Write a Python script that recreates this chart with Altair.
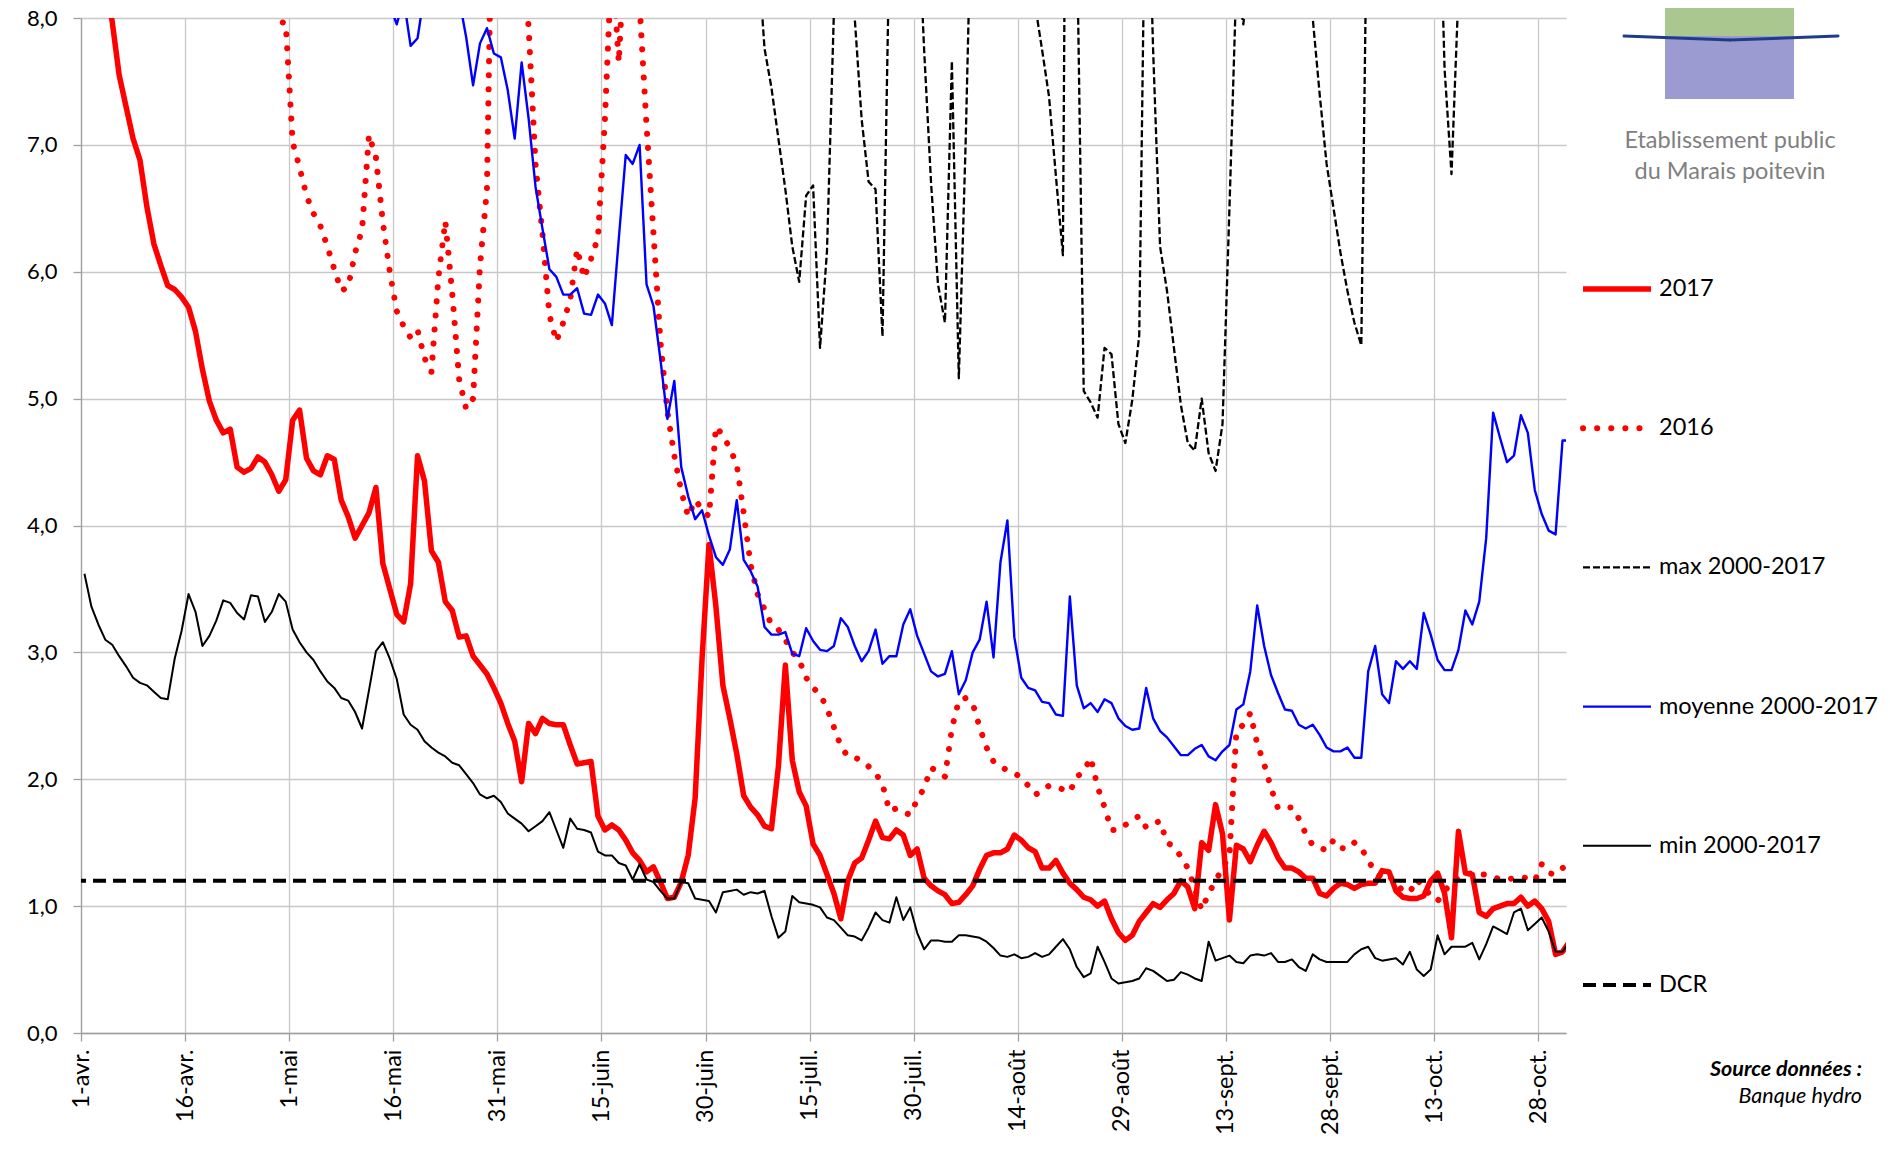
import json
import altair as alt
import pandas as pd

# ---------------- data (one value per day, 1 April -> 1 November) ----------------
tick_labels = ['1-avr.', '16-avr.', '1-mai', '16-mai', '31-mai', '15-juin', '30-juin',
               '15-juil.', '30-juil.', '14-août', '29-août', '13-sept.', '28-sept.',
               '13-oct.', '28-oct.']

s2017 = [9.2, 8.95, 8.65, 8.3, 7.97, 7.55, 7.3, 7.05, 6.88, 6.51,
         6.22, 6.05, 5.89, 5.86, 5.8, 5.72, 5.53, 5.23, 4.98, 4.83,
         4.73, 4.76, 4.46, 4.42, 4.45, 4.54, 4.5, 4.4, 4.27, 4.36,
         4.83, 4.91, 4.53, 4.43, 4.4, 4.55, 4.52, 4.2, 4.07, 3.9,
         4.0, 4.1, 4.3, 3.7, 3.5, 3.3, 3.24, 3.54, 4.55, 4.35,
         3.8, 3.71, 3.4, 3.33, 3.12, 3.13, 2.97, 2.9, 2.83, 2.72,
         2.6, 2.44, 2.3, 1.98, 2.44, 2.36, 2.48, 2.44, 2.43, 2.43,
         2.27, 2.12, 2.13, 2.14, 1.71, 1.6, 1.64, 1.6, 1.52, 1.42,
         1.36, 1.27, 1.31, 1.19, 1.06, 1.07, 1.19, 1.4, 1.85, 2.95,
         3.85, 3.36, 2.74, 2.48, 2.2, 1.87, 1.78, 1.72, 1.63, 1.61,
         2.1, 2.9, 2.15, 1.9, 1.79, 1.49, 1.4, 1.25, 1.1, 0.9,
         1.2, 1.34, 1.38, 1.52, 1.67, 1.54, 1.53, 1.6, 1.56, 1.4,
         1.45, 1.22, 1.16, 1.12, 1.09, 1.02, 1.03, 1.09, 1.16, 1.29,
         1.4, 1.42, 1.42, 1.45, 1.56, 1.52, 1.46, 1.43, 1.3, 1.3,
         1.36, 1.26, 1.18, 1.13, 1.07, 1.05, 1.0, 1.04, 0.9, 0.79,
         0.73, 0.77, 0.88, 0.95, 1.02, 0.99, 1.05, 1.1, 1.2, 1.15,
         0.98, 1.5, 1.44, 1.8, 1.57, 0.89, 1.48, 1.45, 1.35, 1.48,
         1.59, 1.5, 1.38, 1.3, 1.3, 1.27, 1.22, 1.22, 1.1, 1.08,
         1.14, 1.18, 1.17, 1.14, 1.17, 1.18, 1.18, 1.28, 1.27, 1.12,
         1.07, 1.06, 1.06, 1.08, 1.2, 1.26, 1.1, 0.75, 1.59, 1.26,
         1.25, 0.95, 0.92, 0.98, 1.0, 1.02, 1.02, 1.07, 1.0, 1.04,
         0.98, 0.88, 0.62, 0.64, 0.72]

s2016 = [11.5, 11.8, 12.0, 11.6, 11.0, 10.5, 10.2, 10.0, 9.8, 9.6,
         9.5, 9.4, 9.5, 9.7, 9.9, 10.1, 10.3, 10.4, 10.2, 9.9,
         9.6, 9.4, 9.2, 9.0, 8.85, 8.7, 8.5, 8.07, 7.97, 7.96,
         7.02, 6.82, 6.6, 6.46, 6.36, 6.2, 6.02, 5.85, 5.88, 6.15,
         6.33, 7.08, 6.9, 6.39, 6.0, 5.69, 5.57, 5.48, 5.54, 5.32,
         5.21, 5.95, 6.4, 5.83, 5.15, 4.92, 5.0, 6.05, 6.65, 10.0,
         10.5, 10.8, 10.3, 8.6, 7.93, 6.85, 6.3, 5.66, 5.45, 5.6,
         5.78, 6.18, 5.95, 6.1, 6.27, 7.2, 8.5, 7.65, 8.7, 8.9,
         8.1, 7.15, 6.3, 5.45, 4.9, 4.55, 4.27, 4.07, 4.2, 4.13,
         4.07, 4.78, 4.71, 4.61, 4.48, 4.1, 3.69, 3.46, 3.34, 3.22,
         3.18, 3.1, 3.0, 2.94, 2.8, 2.72, 2.67, 2.56, 2.41, 2.26,
         2.18, 2.17, 2.15, 2.1, 2.05, 1.96, 1.75, 1.77, 1.74, 1.72,
         1.84, 1.93, 2.09, 2.06, 2.02, 2.4, 2.62, 2.64, 2.6, 2.41,
         2.25, 2.14, 2.1, 2.07, 2.05, 2.01, 1.95, 1.88, 1.9, 1.95,
         1.94, 1.92, 1.9, 2.02, 2.06, 2.17, 1.94, 1.78, 1.6, 1.6,
         1.64, 1.68, 1.71, 1.62, 1.65, 1.67, 1.5, 1.47, 1.39, 1.3,
         1.14, 0.97, 1.1, 1.2, 1.3, 1.4, 2.38, 2.43, 2.52, 2.28,
         2.12, 1.93, 1.77, 1.77, 1.78, 1.69, 1.57, 1.48, 1.46, 1.44,
         1.52, 1.46, 1.45, 1.5, 1.46, 1.36, 1.27, 1.22, 1.24, 1.18,
         1.12, 1.11, 1.21, 1.15, 1.08, 1.04, 1.12, 1.18, 1.22, 1.25,
         1.26, 1.25, 1.25, 1.23, 1.21, 1.21, 1.22, 1.23, 1.22, 1.2,
         1.33, 1.26, 1.25, 1.3, 1.33]

smax = [24, 23, 22, 21, 20.5, 20, 19.5, 19, 18.6, 18.2,
        18, 17.5, 17, 16.8, 16.5, 17, 17.5, 17, 16.5, 16,
        15.6, 15.2, 15, 14.8, 14.6, 14.4, 14.2, 14, 13.8, 13.6,
        13.5, 13.3, 13.1, 13, 12.8, 12.6, 12.4, 12.3, 12.2, 12,
        11.9, 11.8, 11.7, 11.6, 11.5, 11.4, 11.3, 11.2, 11.1, 11,
        10.9, 10.8, 10.7, 10.6, 10.5, 10.4, 10.3, 10.2, 10.1, 10,
        9.9, 9.8, 9.8, 9.7, 9.7, 9.6, 9.6, 9.5, 9.5, 9.4,
        9.4, 9.3, 9.3, 9.2, 9.2, 9.1, 9.1, 9.0, 9.0, 8.9,
        8.9, 8.9, 8.8, 8.8, 8.8, 8.7, 8.7, 8.7, 8.7, 8.6,
        8.6, 8.6, 8.6, 8.6, 8.7, 8.9, 9.0, 8.56, 7.76, 7.45,
        7.05, 6.65, 6.2, 5.92, 6.6, 6.68, 5.4, 6.16, 8.05, 8.9,
        8.8, 8.0, 7.2, 6.71, 6.65, 5.49, 8.6, 9.0, 9.3, 9.1,
        9.0, 7.75, 6.7, 5.9, 5.6, 7.66, 5.16, 7.05, 9.4, 9.6,
        9.7, 9.6, 9.5, 9.3, 9.1, 8.8, 8.5, 8.1, 7.75, 7.38,
        6.75, 6.13, 15.0, 8.73, 5.06, 4.97, 4.85, 5.4, 5.35, 4.8,
        4.65, 4.99, 5.5, 9.7, 7.75, 6.2, 5.85, 5.4, 4.95, 4.65,
        4.59, 5.0, 4.57, 4.43, 4.8, 6.5, 8.3, 7.95, 8.5, 8.8,
        9.2, 9.4, 9.5, 9.4, 9.2, 9.0, 8.7, 8.0, 7.4, 6.85,
        6.5, 6.15, 5.85, 5.6, 5.42, 9.7, 9.4, 9.7, 9.8, 9.9,
        9.8, 9.6, 9.3, 9.0, 8.8, 9.6, 7.6, 6.77, 8.2, 9.0,
        9.3, 9.7, 10.0, 10.3, 10.5, 10.6, 10.8, 11.0, 11.2, 11.3,
        11.5, 11.6, 11.8, 12.0, 12.2]

smoy = [14.0, 13.5, 13.0, 12.6, 12.2, 11.9, 11.6, 11.4, 11.2, 11.0,
        10.8, 10.6, 10.5, 10.6, 10.8, 10.6, 10.3, 10.1, 10.0, 9.9,
        9.8, 9.7, 9.6, 9.5, 9.5, 9.6, 9.4, 9.3, 9.2, 9.3,
        9.4, 9.2, 9.0, 8.9, 8.8, 8.7, 8.6, 8.6, 8.5, 8.6,
        8.7, 8.6, 8.4, 8.25, 8.1, 7.95, 8.15, 7.78, 7.84, 8.2,
        8.5, 8.7, 8.6, 8.4, 8.15, 7.85, 7.47, 7.8, 7.92, 7.72,
        7.69, 7.43, 7.05, 7.65, 7.21, 6.67, 6.34, 6.02, 5.96, 5.82,
        5.82, 5.87, 5.67, 5.66, 5.82, 5.75, 5.58, 6.26, 6.92, 6.85,
        7.0, 5.9, 5.73, 5.31, 4.84, 5.14, 4.46, 4.23, 4.05, 4.12,
        3.92, 3.75, 3.69, 3.81, 4.2, 3.73, 3.64, 3.52, 3.2, 3.14,
        3.14, 3.16, 2.99, 2.97, 3.19, 3.09, 3.02, 3.01, 3.05, 3.27,
        3.2, 3.05, 2.93, 3.01, 3.18, 2.91, 2.97, 2.97, 3.22, 3.34,
        3.13, 2.99, 2.85, 2.81, 2.83, 3.01, 2.67, 2.78, 3.0, 3.1,
        3.4, 2.96, 3.71, 4.04, 3.12, 2.8, 2.72, 2.7, 2.61, 2.6,
        2.51, 2.5, 3.44, 2.74, 2.56, 2.6, 2.53, 2.63, 2.6, 2.48,
        2.42, 2.39, 2.4, 2.72, 2.48, 2.38, 2.33, 2.26, 2.19, 2.19,
        2.24, 2.27, 2.18, 2.15, 2.22, 2.27, 2.55, 2.59, 2.85, 3.37,
        3.05, 2.82, 2.68, 2.55, 2.54, 2.43, 2.4, 2.43, 2.35, 2.25,
        2.22, 2.22, 2.25, 2.17, 2.17, 2.85, 3.05, 2.67, 2.6, 2.93,
        2.87, 2.93, 2.87, 3.31, 3.14, 2.94, 2.86, 2.86, 3.02, 3.33,
        3.22, 3.4, 3.9, 4.89, 4.69, 4.5, 4.55, 4.87, 4.73, 4.28,
        4.09, 3.96, 3.93, 4.67, 4.67]

smin = [3.62, 3.36, 3.22, 3.1, 3.06, 2.97, 2.89, 2.8, 2.76, 2.74,
        2.69, 2.64, 2.63, 2.95, 3.17, 3.46, 3.32, 3.05, 3.13, 3.25,
        3.41, 3.39, 3.31, 3.26, 3.45, 3.44, 3.24, 3.32, 3.46, 3.4,
        3.18, 3.08, 3.0, 2.94, 2.85, 2.77, 2.72, 2.64, 2.62, 2.53,
        2.4, 2.7, 3.01, 3.08, 2.95, 2.79, 2.51, 2.43, 2.39, 2.3,
        2.25, 2.21, 2.18, 2.13, 2.11, 2.04, 1.97, 1.88, 1.85, 1.87,
        1.82, 1.73, 1.69, 1.65, 1.59, 1.63, 1.67, 1.74, 1.6, 1.46,
        1.69, 1.61, 1.6, 1.58, 1.43, 1.4, 1.4, 1.34, 1.32, 1.21,
        1.33, 1.21, 1.19, 1.12, 1.06, 1.06, 1.19, 1.18, 1.06, 1.05,
        1.04, 0.95, 1.11, 1.12, 1.13, 1.09, 1.11, 1.1, 1.12, 0.92,
        0.75, 0.8, 1.08, 1.03, 1.02, 1.01, 0.99, 0.91, 0.89, 0.83,
        0.77, 0.76, 0.73, 0.83, 0.95, 0.89, 0.87, 1.07, 0.89, 0.99,
        0.79, 0.66, 0.73, 0.73, 0.72, 0.72, 0.77, 0.77, 0.76, 0.75,
        0.72, 0.67, 0.61, 0.6, 0.62, 0.59, 0.6, 0.63, 0.6, 0.62,
        0.68, 0.74, 0.66, 0.52, 0.44, 0.47, 0.68, 0.56, 0.43, 0.39,
        0.4, 0.41, 0.43, 0.51, 0.49, 0.45, 0.41, 0.42, 0.48, 0.46,
        0.43, 0.41, 0.72, 0.57, 0.59, 0.61, 0.56, 0.55, 0.61, 0.62,
        0.61, 0.63, 0.56, 0.56, 0.58, 0.52, 0.49, 0.62, 0.58, 0.56,
        0.56, 0.56, 0.56, 0.62, 0.66, 0.68, 0.59, 0.57, 0.58, 0.59,
        0.54, 0.64, 0.5, 0.45, 0.5, 0.77, 0.62, 0.68, 0.68, 0.68,
        0.71, 0.58, 0.7, 0.84, 0.81, 0.78, 0.95, 0.98, 0.81, 0.86,
        0.91, 0.8, 0.64, 0.64, 0.72]

dcr_value = 1.2

legend_names = ['2017', '2016', 'max 2000-2017', 'moyenne 2000-2017', 'min 2000-2017', 'DCR']

# ---------------- build ----------------
FONT = 'Lato'
PLOT_W, PLOT_H = 1485, 1015
N_DAYS = 214


def frame(vals):
    n = min(len(vals), len(s2017))
    return pd.DataFrame({'pos': [i + 0.5 for i in range(n)], 'value': vals[:n]})


label_expr = json.dumps(tick_labels) + '[round(datum.value / 15)]'

x_axis = alt.Axis(values=list(range(0, 211, 15)), labelExpr=label_expr, labelAngle=270,
                  labelAlign='right', labelBaseline='middle', labelFont=FONT, labelFontSize=23.5,
                  labelColor='#000000', labelPadding=8, labelFlush=False, labelOverlap=False,
                  tickSize=8, tickColor='#A0A0A0', tickWidth=1.3, domainColor='#A0A0A0',
                  domainWidth=1.3, grid=True, gridColor='#C8C8C8', gridWidth=1.3, title=None)
y_axis = alt.Axis(values=list(range(0, 9)),
                  labelExpr="replace(format(datum.value, '.1f'), '.', ',')",
                  labelFont=FONT, labelFontSize=22, labelColor='#000000', labelPadding=16,
                  labelFlush=False, labelOverlap=False, tickSize=8, tickColor='#A0A0A0',
                  tickWidth=1.3, domainColor='#A0A0A0', domainWidth=1.3, grid=True,
                  gridColor='#C8C8C8', gridWidth=1.3, title=None)

x_enc = alt.X('pos:Q', scale=alt.Scale(domain=[0, N_DAYS], nice=False, zero=False), axis=x_axis)
y_enc = alt.Y('value:Q', scale=alt.Scale(domain=[0, 8], nice=False, zero=True), axis=y_axis)

styles = {
    '2017': dict(color='#FF0000', strokeWidth=5.5),
    '2016': dict(color='#FF0000', strokeWidth=6, strokeDash=[0.1, 14], strokeCap='round'),
    'max': dict(color='#000000', strokeWidth=2.3, strokeDash=[7, 3]),
    'moy': dict(color='#0000FF', strokeWidth=2.4),
    'min': dict(color='#000000', strokeWidth=2.0),
    'dcr': dict(color='#000000', strokeWidth=4.2, strokeDash=[13, 7]),
}


def line(vals, st):
    return alt.Chart(frame(vals)).mark_line(clip=True, strokeJoin='round', **st).encode(x=x_enc, y=y_enc)


layers = [
    line(s2017, styles['2017']),
    line(s2016, styles['2016']),
    line(smax, styles['max']),
    line(smoy, styles['moy']),
    line(smin, styles['min']),
    alt.Chart(pd.DataFrame({'value': [dcr_value]})).mark_rule(clip=True, **styles['dcr']).encode(y=y_enc),
]

one = pd.DataFrame({'k': [0]})

# legend (drawn to the right of the plot)
leg_x0, leg_x1, leg_tx = 1502, 1570, 1578
leg_y0, leg_dy = 271, 139.2
for i, (name, key) in enumerate(zip(legend_names, ['2017', '2016', 'max', 'moy', 'min', 'dcr'])):
    yy = leg_y0 + i * leg_dy
    layers.append(alt.Chart(one).mark_rule(**styles[key]).encode(
        x=alt.value(leg_x0), x2=alt.value(leg_x1), y=alt.value(yy)))
    layers.append(alt.Chart(one).mark_text(text=name, align='left', baseline='middle', font=FONT,
                                           fontSize=23.5, color='#000000').encode(
        x=alt.value(leg_tx), y=alt.value(yy)))

# logo
layers.append(alt.Chart(one).mark_rect(color='#A9C78E').encode(
    x=alt.value(1584), x2=alt.value(1713), y=alt.value(-18), y2=alt.value(18)))
layers.append(alt.Chart(one).mark_rect(color='#9B9BD2').encode(
    x=alt.value(1584), x2=alt.value(1713), y=alt.value(18), y2=alt.value(81)))
layers.append(alt.Chart(one).mark_rule(color='#1F3C88', strokeWidth=3, strokeCap='round').encode(
    x=alt.value(1543), x2=alt.value(1649), y=alt.value(18), y2=alt.value(22)))
layers.append(alt.Chart(one).mark_rule(color='#1F3C88', strokeWidth=3, strokeCap='round').encode(
    x=alt.value(1649), x2=alt.value(1757), y=alt.value(22), y2=alt.value(18)))
for txt, yy in [('Etablissement public', 123), ('du Marais poitevin', 154)]:
    layers.append(alt.Chart(one).mark_text(text=txt, align='center', baseline='middle', font=FONT,
                                           fontSize=23.5, color='#808080').encode(
        x=alt.value(1649), y=alt.value(yy)))

# source
layers.append(alt.Chart(one).mark_text(text='Source données :', align='right', baseline='middle',
                                       font=FONT, fontSize=21.5, fontWeight='bold', fontStyle='italic',
                                       color='#000000').encode(x=alt.value(1781), y=alt.value(1052)))
layers.append(alt.Chart(one).mark_text(text='Banque hydro', align='right', baseline='middle',
                                       font=FONT, fontSize=21.5, fontStyle='italic',
                                       color='#000000').encode(x=alt.value(1781), y=alt.value(1079)))

chart = alt.layer(*layers).properties(
    width=PLOT_W, height=PLOT_H,
    autosize=alt.AutoSizeParams(type='none'),
    padding={'left': 73, 'top': 10, 'right': 316, 'bottom': 105},
    background='white',
).configure_view(strokeWidth=0)

chart.save('out.html', embed_options={'renderer': 'svg', 'actions': False})
